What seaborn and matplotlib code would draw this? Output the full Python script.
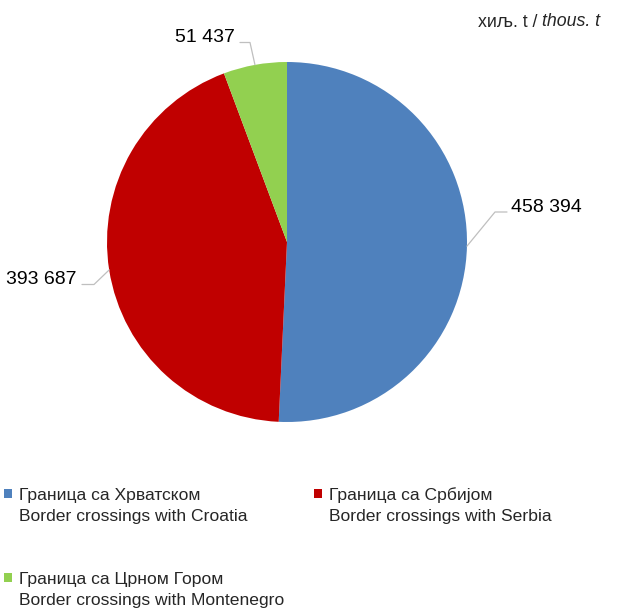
import matplotlib
matplotlib.use("Agg")
import matplotlib.pyplot as plt
import seaborn as sns
from matplotlib import font_manager
from matplotlib.patches import Rectangle
import numpy as np

categories_sr = ["Граница са Хрватском", "Граница са Србијом", "Граница са Црном Гором"]
categories_en = ["Border crossings with Croatia", "Border crossings with Serbia", "Border crossings with Montenegro"]
values = [458394, 393687, 51437]
value_labels = ["458 394", "393 687", "51 437"]
colors = ["#4F81BD", "#C00000", "#92D050"]

sns.set_theme(style="white")
names = {f.name for f in font_manager.fontManager.ttflist}
fam = "Liberation Sans Narrow" if "Liberation Sans Narrow" in names else "Liberation Sans"
plt.rcParams["font.family"] = [fam, "DejaVu Sans"]

W, H = 619, 609
fig = plt.figure(figsize=(W / 100, H / 100), dpi=100)
cx, cy, R = 287, 242, 180
ax = fig.add_axes([(cx - R) / W, (H - cy - R) / H, 2 * R / W, 2 * R / H])
wedges, _ = ax.pie(values, colors=colors, startangle=90, counterclock=False, radius=1.0,
                   wedgeprops=dict(linewidth=0))
ax.set_xlim(-1, 1)
ax.set_ylim(-1, 1)
ax.set_aspect("equal")
ax.axis("off")

def px2d(x, y):
    return ((x - cx) / R, (cy - y) / R)

# label positions (pixel): text anchor (baseline), elbow points
label_specs = [
    dict(text=(511, 212), ha="left", elbow=[(507, 212), (495, 212)]),
    dict(text=(77, 284.5), ha="right", elbow=[(82, 284.5), (94, 284.5)]),
    dict(text=(235, 42.5), ha="right", elbow=[(240, 42.5), (250, 42.5)]),
]
for w, lab, spec in zip(wedges, value_labels, label_specs):
    ang = np.deg2rad((w.theta1 + w.theta2) / 2)
    ex, ey = np.cos(ang), np.sin(ang)
    pts = [px2d(*p) for p in spec["elbow"]] + [(ex, ey)]
    xs, ys = zip(*pts)
    ax.plot(xs, ys, color="#BFBFBF", lw=0.9, clip_on=False)
    tx, ty = px2d(*spec["text"])
    ax.text(tx, ty, lab, ha=spec["ha"], va="baseline", fontsize=14, color="black", clip_on=False)

t0 = fig.text(600 / W, 1 - 26.5 / H, "хиљ. t / ", ha="right", va="baseline", fontsize=12.8)
t = fig.text(600 / W, 1 - 26.5 / H, "thous. t", ha="right", va="baseline", fontsize=12.8, style="italic")
fig.canvas.draw()
bb = t.get_window_extent()
t0.set_x(bb.x0 / W)

# legend
leg_pos = [(3.5, 489), (313.5, 489), (3.5, 573)]
for (lx, ly), c, s1, s2 in zip(leg_pos, colors, categories_sr, categories_en):
    fig.patches.append(Rectangle((lx / W, 1 - (ly + 8.5) / H), 8.5 / W, 8.5 / H, transform=fig.transFigure,
                                 facecolor=c, edgecolor="none"))
    fig.text((lx + 15.5) / W, 1 - (ly + 11) / H, s1, ha="left", va="baseline", fontsize=12.6)
    fig.text((lx + 15.5) / W, 1 - (ly + 32.5) / H, s2, ha="left", va="baseline", fontsize=12.6)

fig.savefig("out.png", dpi=100)
